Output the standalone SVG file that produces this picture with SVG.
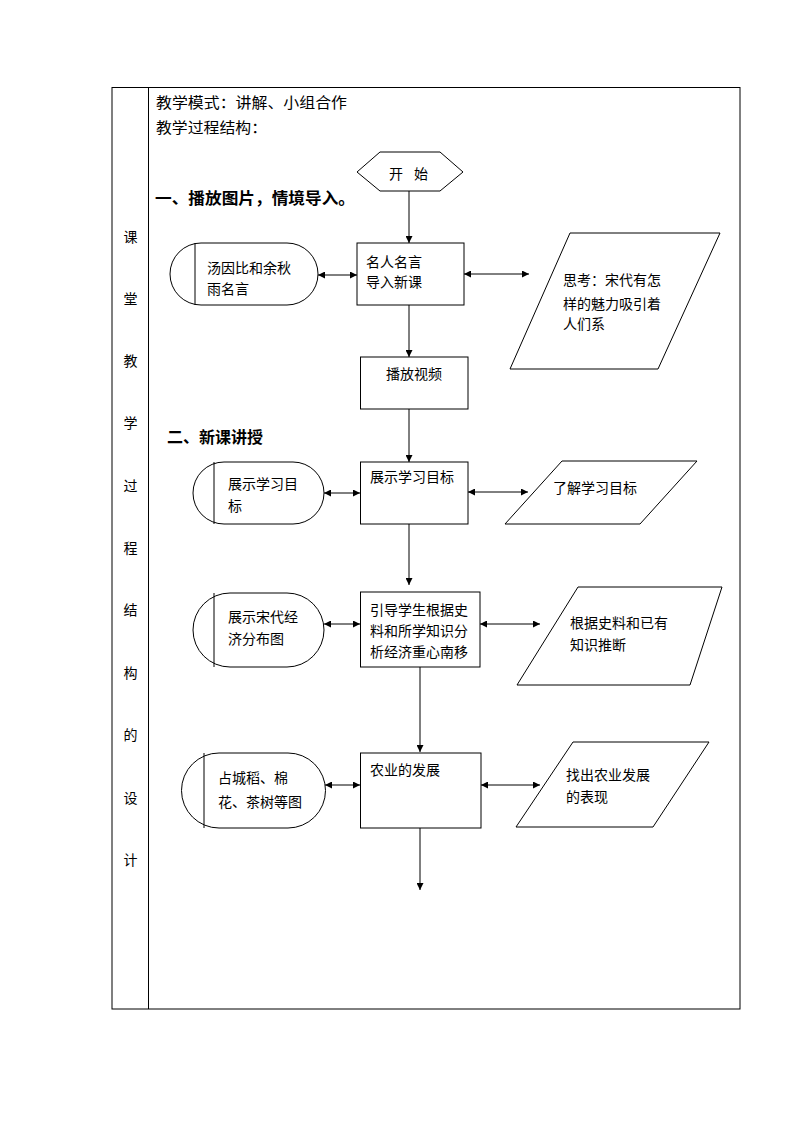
<svg xmlns="http://www.w3.org/2000/svg" width="794" height="1123" viewBox="0 0 794 1123">
<defs>
<marker id="ah" viewBox="0 0 10 10" refX="10" refY="5" markerWidth="9" markerHeight="7" markerUnits="userSpaceOnUse" orient="auto-start-reverse">
<path d="M0,0 L10,5 L0,10 z" fill="#000"/>
</marker>
<style>
text{font-family:"Noto Sans CJK SC","Liberation Sans",sans-serif;fill:#000}
.t{font-size:14px}
.h{font-size:15px}
.b{font-size:16px;font-weight:bold}
.shape{fill:#fff;stroke:#000;stroke-width:1}
.c{stroke:#000;stroke-width:1;fill:none}
.one{marker-end:url(#ah)}
.two{marker-start:url(#ah);marker-end:url(#ah)}
</style>
</defs>
<rect width="794" height="1123" fill="#fff"/>
<g id="table">
<rect x="112" y="87.5" width="628" height="921.5" fill="none" stroke="#000" stroke-width="1"/>
<line x1="148.5" y1="87.5" x2="148.5" y2="1009" stroke="#000" stroke-width="1"/>
<g class="t" text-anchor="middle">
<text x="130.5" y="242">课</text>
<text x="130.5" y="304">堂</text>
<text x="130.5" y="366">教</text>
<text x="130.5" y="428">学</text>
<text x="130.5" y="491">过</text>
<text x="130.5" y="553">程</text>
<text x="130.5" y="615">结</text>
<text x="130.5" y="678">构</text>
<text x="130.5" y="740">的</text>
<text x="130.5" y="803">设</text>
<text x="130.5" y="865">计</text>
</g>
<text class="h" x="156" y="108" textLength="191" lengthAdjust="spacingAndGlyphs">教学模式：讲解、小组合作</text>
<text class="h" x="156" y="133" textLength="111" lengthAdjust="spacingAndGlyphs">教学过程结构：</text>
<text class="b" x="155" y="204" textLength="200" lengthAdjust="spacingAndGlyphs">一、播放图片，情境导入。</text>
<text class="b" x="167" y="443" textLength="96" lengthAdjust="spacingAndGlyphs">二、新课讲授</text>
</g>
<g id="connectors">
<line class="c one" x1="409" y1="191" x2="409" y2="243"/>
<line class="c two" x1="318" y1="275" x2="357" y2="275"/>
<line class="c two" x1="464" y1="274" x2="529" y2="274"/>
<line class="c one" x1="409" y1="305" x2="409" y2="357"/>
<line class="c one" x1="409" y1="409" x2="409" y2="462"/>
<line class="c two" x1="324" y1="493" x2="360" y2="493"/>
<line class="c two" x1="468" y1="492" x2="528" y2="492"/>
<line class="c one" x1="409" y1="524" x2="409" y2="585"/>
<line class="c two" x1="324" y1="624" x2="360" y2="624"/>
<line class="c two" x1="480" y1="624" x2="540" y2="624"/>
<line class="c one" x1="420" y1="667" x2="420" y2="752"/>
<line class="c two" x1="325" y1="785" x2="360" y2="785"/>
<line class="c two" x1="481" y1="785" x2="540" y2="785"/>
<line class="c one" x1="420" y1="828" x2="420" y2="890"/>
</g>
<g id="start">
<polygon class="shape" points="357,172 380,152 440,152 463,172 440,191 380,191"/>
<text class="t" x="396" y="179" text-anchor="middle">开</text>
<text class="t" x="421" y="179" text-anchor="middle">始</text>
</g>
<g id="quote">
<rect class="shape" x="357" y="243" width="107" height="62"/>
<text class="t" x="366" y="267">名人名言</text>
<text class="t" x="366" y="287">导入新课</text>
</g>
<g id="quote-src">
<path class="shape" d="M201,243 H287 A31,31 0 0 1 287,305 H201 A31,31 0 0 1 201,243 Z"/>
<line x1="195" y1="243" x2="195" y2="305" stroke="#000"/>
<text class="t" x="207" y="273">汤因比和余秋</text>
<text class="t" x="207" y="294">雨名言</text>
</g>
<g id="think">
<polygon class="shape" points="570,233 720,233 658,369 510,369"/>
<text class="t" x="563" y="285">思考：宋代有怎</text>
<text class="t" x="563" y="309">样的魅力吸引着</text>
<text class="t" x="563" y="329">人们系</text>
</g>
<g id="video">
<rect class="shape" x="360.5" y="357" width="107.5" height="52"/>
<text class="t" x="414" y="379" text-anchor="middle">播放视频</text>
</g>
<g id="goal">
<rect class="shape" x="360.5" y="462" width="107.5" height="62"/>
<text class="t" x="370" y="482">展示学习目标</text>
</g>
<g id="goal-src">
<path class="shape" d="M224,462 H293 A31,31 0 0 1 293,524 H224 A31,31 0 0 1 224,462 Z"/>
<line x1="214" y1="462" x2="214" y2="524" stroke="#000"/>
<text class="t" x="228" y="489">展示学习目</text>
<text class="t" x="228" y="511">标</text>
</g>
<g id="goal-out">
<polygon class="shape" points="562,461 697,461 640,524 505,524"/>
<text class="t" x="553" y="493">了解学习目标</text>
</g>
<g id="shift">
<rect class="shape" x="360.5" y="592" width="119.5" height="75"/>
<text class="t" x="370" y="615">引导学生根据史</text>
<text class="t" x="370" y="636">料和所学知识分</text>
<text class="t" x="370" y="657">析经济重心南移</text>
</g>
<g id="shift-src">
<path class="shape" d="M230,593 H287 A37,37 0 0 1 287,667 H230 A37,37 0 0 1 230,593 Z"/>
<line x1="214" y1="593" x2="214" y2="667" stroke="#000"/>
<text class="t" x="228" y="622">展示宋代经</text>
<text class="t" x="228" y="644">济分布图</text>
</g>
<g id="shift-out">
<polygon class="shape" points="578,587 722,587 690,685 517,685"/>
<text class="t" x="570" y="628">根据史料和已有</text>
<text class="t" x="570" y="650">知识推断</text>
</g>
<g id="agri">
<rect class="shape" x="360.5" y="753" width="120.5" height="75"/>
<text class="t" x="370" y="775">农业的发展</text>
</g>
<g id="agri-src">
<path class="shape" d="M219,753 H288 A37.5,37.5 0 0 1 288,828 H219 A37.5,37.5 0 0 1 219,753 Z"/>
<line x1="204" y1="753" x2="204" y2="828" stroke="#000"/>
<text class="t" x="218" y="783">占城稻、棉</text>
<text class="t" x="218" y="807">花、茶树等图</text>
</g>
<g id="agri-out">
<polygon class="shape" points="573,742 709,742 653,827 516,827"/>
<text class="t" x="566" y="780">找出农业发展</text>
<text class="t" x="566" y="802">的表现</text>
</g>
</svg>
